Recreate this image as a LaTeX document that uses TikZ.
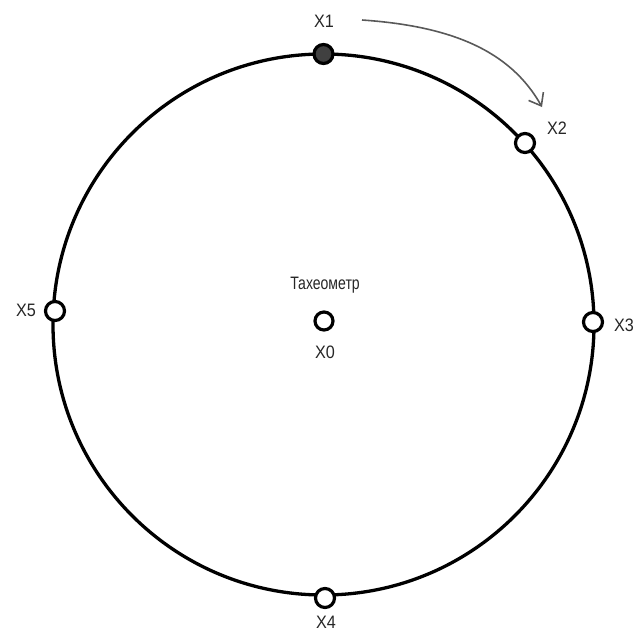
\documentclass[tikz,border=0pt]{standalone}
\usepackage{fontspec}
\setmainfont{Liberation Sans}
\usetikzlibrary{arrows.meta}
\begin{document}
\begin{tikzpicture}[x=1pt,y=-1pt,
  pt/.style={circle,draw=black,line width=3.2pt,fill=white,minimum size=19pt,inner sep=0pt},
  ptfill/.style={pt,fill=black!75},
  lbl/.style={font=\fontsize{18}{20}\selectfont,inner sep=0pt,text=black!85},
  ring/.style={line width=3.3pt,draw=black},
  turn/.style={line width=1.6pt,draw=black!65,-{Straight Barb[length=11pt,width=17pt,line width=1.6pt]}}]
\useasboundingbox (0,0) rectangle (638,632);
\draw[ring] (323.5,324.5) circle (270.5);
\node[ptfill] (x1) at (323.5,54) {};
\node[pt] (x2) at (525,143) {};
\node[pt] (x3) at (593,322) {};
\node[pt] (x4) at (325,598) {};
\node[pt] (x5) at (55,311) {};
\node[pt,minimum size=18pt] (x0) at (324,321) {};
\node[lbl] (l1) at (324,21) {\scalebox{0.9}[1]{X1}};
\node[lbl] (l2) at (557,128) {\scalebox{0.9}[1]{X2}};
\node[lbl] (l3) at (624,325) {\scalebox{0.9}[1]{X3}};
\node[lbl] (l4) at (326,622) {\scalebox{0.9}[1]{X4}};
\node[lbl] (l5) at (26,310) {\scalebox{0.9}[1]{X5}};
\node[lbl] (l0) at (325,352) {\scalebox{0.9}[1]{X0}};
\node[lbl] (t) at (325,285) {\scalebox{0.78}[1]{Тахеометр}};
\coordinate (a0) at (362,20);
\coordinate (a1) at (542,107);
\draw[turn] (a0) .. controls (450,26) and (510,50) .. (a1);
\end{tikzpicture}
\end{document}
